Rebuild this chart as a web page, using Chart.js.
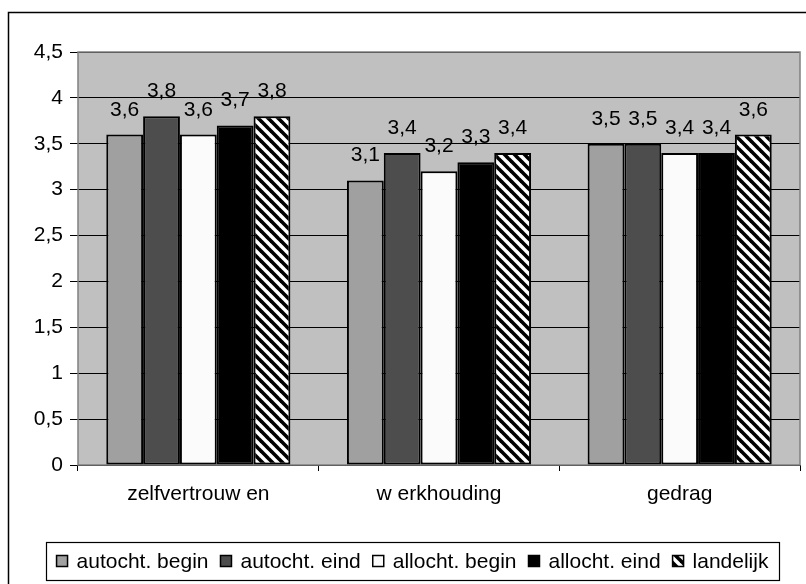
<!DOCTYPE html>
<html>
<head>
<meta charset="utf-8">
<script src="https://cdn.jsdelivr.net/npm/chart.js@4/dist/chart.umd.min.js"></script>
<style>
  body { margin: 0; background: #fff; }
  canvas { display: block; }
</style>
</head>
<body>
<canvas id="chart" width="806" height="584"></canvas>
<script>
const categories = ['zelfvertrouw en', 'w erkhouding', 'gedrag']
const seriesNames = ['autocht. begin', 'autocht. eind', 'allocht. begin', 'allocht. eind', 'landelijk']
const autochtBegin = [3.6, 3.1, 3.5]
const autochtEind = [3.8, 3.4, 3.5]
const allochtBegin = [3.6, 3.2, 3.4]
const allochtEind = [3.7, 3.3, 3.4]
const landelijk = [3.8, 3.4, 3.6]
const yMin = 0, yMax = 4.5, yStep = 0.5

const FONT = '"Liberation Sans", Arial, sans-serif'

// diagonal hatch like the excel pattern fill
const makeHatch = () => {
    const size = 10
    const c = document.createElement('canvas')
    c.width = size
    c.height = size
    const g = c.getContext('2d')
    g.fillStyle = '#fff'
    g.fillRect(0, 0, size, size)
    g.strokeStyle = '#000'
    g.lineWidth = 3.6
    for (let k = -1; k <= 1; k++) {
        g.beginPath()
        g.moveTo(-2 + k * size, -2)
        g.lineTo(size + 2 + k * size, size + 2)
        g.stroke()
    }
    return g.createPattern(c, 'repeat')
}

const hatch = makeHatch()
const fills = ['#a0a0a0', '#4d4d4d', '#fbfbfb', '#000000', hatch]
const values = [autochtBegin, autochtEind, allochtBegin, allochtEind, landelijk]

const fmt = v => String(v).replace('.', ',')

const frame = {
    id: 'frame',
    beforeDraw(chart) {
        const { ctx, chartArea: a } = chart
        ctx.save()
        ctx.fillStyle = '#fff'
        ctx.fillRect(0, 0, chart.width, chart.height)
        ctx.strokeStyle = '#000'
        ctx.lineWidth = 1.5
        ctx.strokeRect(8.5, 12.5, 900, 900)
        ctx.fillStyle = '#c0c0c0'
        ctx.fillRect(a.left, a.top, a.right - a.left, a.bottom - a.top)
        ctx.restore()
    },
    beforeDatasetsDraw(chart) {
        const { ctx, chartArea: a } = chart
        ctx.save()
        ctx.strokeStyle = '#808080'
        ctx.lineWidth = 1.5
        ctx.strokeRect(a.left, a.top, a.right - a.left, a.bottom - a.top)
        ctx.restore()
    }
}

const valueLabels = {
    id: 'valueLabels',
    afterDatasetsDraw(chart) {
        const { ctx } = chart
        ctx.save()
        ctx.fillStyle = '#000'
        ctx.font = '21px ' + FONT
        ctx.textAlign = 'center'
        ctx.textBaseline = 'alphabetic'
        chart.data.datasets.forEach((ds, i) => {
            chart.getDatasetMeta(i).data.forEach((bar, j) => {
                ctx.fillText(fmt(ds.data[j]), bar.x, bar.y - 19)
            })
        })
        ctx.restore()
    }
}

const boxLegend = {
    id: 'boxLegend',
    afterDraw(chart) {
        const { ctx } = chart
        const box = { left: 46, top: 542, right: 779, bottom: 580 }
        const sw = 11, gapText = 9, gapItem = 12
        ctx.save()
        ctx.fillStyle = '#fff'
        ctx.fillRect(box.left, box.top, box.right - box.left, box.bottom - box.top)
        ctx.strokeStyle = '#000'
        ctx.lineWidth = 1.2
        ctx.strokeRect(box.left + 0.5, box.top + 0.5, box.right - box.left, box.bottom - box.top)
        ctx.font = '21px ' + FONT
        const widths = seriesNames.map(n => ctx.measureText(n).width)
        const total = widths.reduce((s, w) => s + sw + gapText + w, 0) + gapItem * (seriesNames.length - 1)
        let x = (box.left + box.right) / 2 - total / 2
        const cy = (box.top + box.bottom) / 2
        ctx.textBaseline = 'middle'
        ctx.textAlign = 'left'
        chart.data.datasets.forEach((ds, i) => {
            ctx.fillStyle = ds.backgroundColor
            ctx.fillRect(x, cy - sw / 2, sw, sw)
            ctx.strokeStyle = '#000'
            ctx.lineWidth = 1.5
            ctx.strokeRect(x, cy - sw / 2, sw, sw)
            ctx.fillStyle = '#000'
            ctx.fillText(seriesNames[i], x + sw + gapText, cy + 1)
            x += sw + gapText + widths[i] + gapItem
        })
        ctx.restore()
    }
}

const data = {
    labels: categories,
    datasets: seriesNames.map((name, i) => ({
        label: name,
        data: values[i],
        backgroundColor: fills[i],
        borderColor: '#000',
        borderWidth: 2,
        borderSkipped: false,
        categoryPercentage: 0.765,
        barPercentage: 1
    }))
}

const options = {
    responsive: false,
    animation: false,
    devicePixelRatio: 1,
    layout: { padding: { left: 8, top: 52, right: 6, bottom: 0 } },
    plugins: {
        legend: { display: false },
        tooltip: { enabled: false }
    },
    scales: {
        x: {
            grid: { display: true, drawOnChartArea: false, color: '#000', tickLength: 6, offset: true },
            border: { display: false },
            ticks: { color: '#000', padding: 11, font: { family: FONT, size: 21 } },
            afterFit: s => { s.height = 119 }
        },
        y: {
            min: yMin,
            max: yMax,
            grid: { color: '#000', lineWidth: 1, tickLength: 8 },
            border: { display: false },
            ticks: {
                stepSize: yStep,
                color: '#000',
                padding: 7,
                font: { family: FONT, size: 21 },
                callback: v => fmt(v)
            },
            afterFit: s => { s.width = 70 }
        }
    }
}

new Chart('chart', { type: 'bar', data, options, plugins: [frame, valueLabels, boxLegend] })
</script>
</body>
</html>
